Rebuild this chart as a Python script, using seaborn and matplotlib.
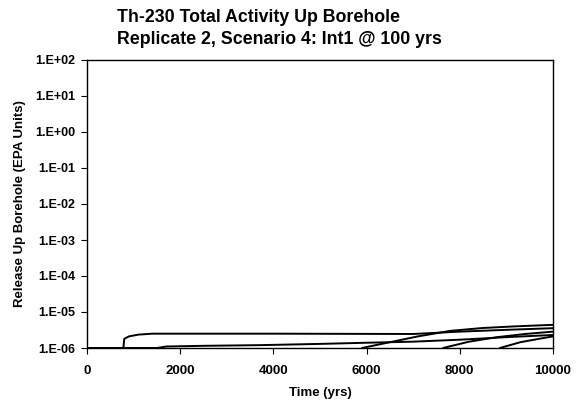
import numpy as np
import pandas as pd
import matplotlib
matplotlib.use("Agg")
import matplotlib.pyplot as plt
import seaborn as sns
from matplotlib.ticker import FixedLocator, FuncFormatter, NullLocator

title_lines = ["Th-230 Total Activity Up Borehole", "Replicate 2, Scenario 4: Int1 @ 100 yrs"]
x_label = "Time (yrs)"
y_label = "Release Up Borehole (EPA Units)"

t1 = [0, 780, 800, 900, 1100, 1400, 4000, 7000, 8000, 9000, 10000]
v1 = [1e-6, 1e-6, 1.8e-6, 2.1e-6, 2.35e-6, 2.5e-6, 2.5e-6, 2.45e-6, 2.85e-6, 3.2e-6, 3.55e-6]

t2 = [0, 1500, 1700, 2500, 3700, 5000, 6000, 7000, 8000, 9000, 10000]
v2 = [1e-6, 1e-6, 1.1e-6, 1.15e-6, 1.2e-6, 1.3e-6, 1.4e-6, 1.5e-6, 1.7e-6, 2.0e-6, 2.3e-6]

t3 = [5900, 6500, 7100, 7800, 8500, 9200, 10000]
v3 = [1e-6, 1.45e-6, 2.1e-6, 3.0e-6, 3.6e-6, 4.0e-6, 4.4e-6]

t4 = [7640, 8200, 8800, 9400, 10000]
v4 = [1e-6, 1.5e-6, 2.0e-6, 2.45e-6, 2.85e-6]

t5 = [8860, 9300, 9700, 10000]
v5 = [1e-6, 1.45e-6, 1.8e-6, 2.1e-6]

x_ticks = [0, 2000, 4000, 6000, 8000, 10000]
y_exps = [-6, -5, -4, -3, -2, -1, 0, 1, 2]

sns.set_theme(style="white")
plt.rcParams['font.family'] = ['Liberation Sans', 'DejaVu Sans']
plt.rcParams['text.color'] = 'black'
plt.rcParams['axes.labelcolor'] = 'black'
plt.rcParams['xtick.color'] = 'black'
plt.rcParams['ytick.color'] = 'black'

fig = plt.figure(figsize=(5.8, 4.11), dpi=100)
ax = fig.add_axes([87/580, 1-348/411, (553-87)/580, (348-60)/411])

series = [(t1, v1), (t2, v2), (t3, v3), (t4, v4), (t5, v5)]
frames = []
for i, (t, v) in enumerate(series):
    frames.append(pd.DataFrame({"t": t, "v": v, "s": f"s{i+1}"}))
df = pd.concat(frames, ignore_index=True)

sns.lineplot(data=df, x="t", y="v", units="s", estimator=None, color="black",
             linewidth=1.4, ax=ax, legend=False, sort=False)

ax.set_yscale("log")
ax.set_xlim(0, 10000)
ax.set_ylim(1e-6, 1e2)
ax.xaxis.set_major_locator(FixedLocator(x_ticks))
ax.yaxis.set_major_locator(FixedLocator([10.0**e for e in y_exps]))
ax.yaxis.set_minor_locator(NullLocator())
ax.yaxis.set_major_formatter(FuncFormatter(lambda v, p: "1.E{:+03d}".format(int(round(np.log10(v))))))
ax.xaxis.set_major_formatter(FuncFormatter(lambda v, p: f"{int(v)}"))

for sp in ax.spines.values():
    sp.set_visible(True)
    sp.set_color("black")
    sp.set_linewidth(1.0)

ax.tick_params(axis="both", which="major", direction="out", length=4, width=0.8,
               colors="black", labelcolor="black", left=True, bottom=True)
ax.tick_params(axis="x", labelsize=9.5, pad=8.5)
ax.tick_params(axis="y", labelsize=9, pad=4.5)
for lab in ax.get_xticklabels() + ax.get_yticklabels():
    lab.set_fontweight("bold")

ax.set_xlabel(x_label, fontsize=9.5, fontweight="bold", color="black")
ax.set_ylabel(y_label, fontsize=9.5, fontweight="bold", color="black")
ax.xaxis.label.set_va("center")
ax.yaxis.label.set_va("center")
ax.xaxis.set_label_coords(0.5, -(393-348)/288)
ax.yaxis.set_label_coords(-(87-20)/466, 0.5)
ax.grid(False)

fig.text(117/580, 1-17/411, title_lines[0], ha="left", va="center", fontsize=12.8,
         fontweight="bold", color="black")
fig.text(117/580, 1-40/411, title_lines[1], ha="left", va="center", fontsize=12.8,
         fontweight="bold", color="black")

fig.savefig("out.png", dpi=100, facecolor="white")
